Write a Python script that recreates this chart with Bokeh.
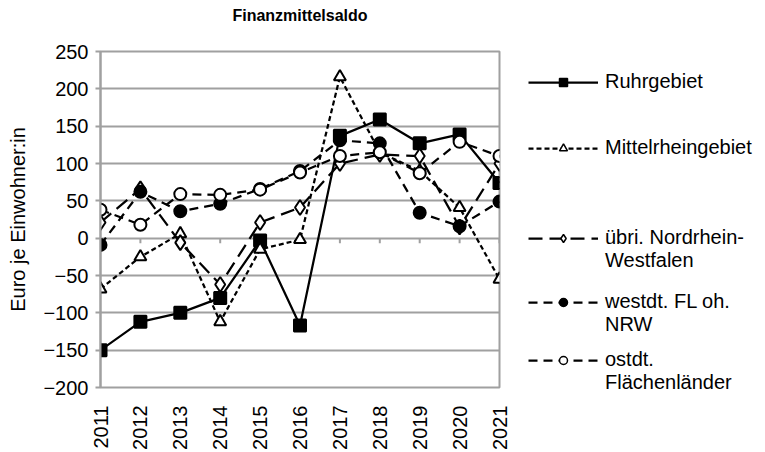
import math
from bokeh.plotting import figure
from bokeh.layouts import row, column
from bokeh.models import Range1d, FixedTicker, Legend, LegendItem
from bokeh.core.properties import value
from bokeh.embed import file_html
from bokeh.resources import INLINE

# ---- data ----
years = [2011, 2012, 2013, 2014, 2015, 2016, 2017, 2018, 2019, 2020, 2021]
ruhr = [-150, -112, -100, -80, -3, -117, 137, 159, 127, 139, 74]
mittel = [-68, -25, 6, -112, -15, -2, 216, 115, 90, 41, -55]
uebri = [21, 66, -6, -62, 21, 41, 100, 112, 110, 15, 100]
westdt = [-9, 62, 36, 46, 66, 90, 131, 127, 34, 16, 49]
ostdt = [38, 18, 59, 58, 65, 88, 110, 115, 87, 129, 110]
y_ticks = [-200, -150, -100, -50, 0, 50, 100, 150, 200, 250]

title_text = "Finanzmittelsaldo"
y_label = "Euro je Einwohner:in"
legend_first = ["Ruhrgebiet", "Mittelrheingebiet", "übri. Nordrhein-", "westdt. FL oh.", "ostdt."]
legend_second = [None, None, "Westfalen", "NRW", "Flächenländer"]

FONT = "Liberation Sans"
GRID = "#a0a0a0"
W, H = 765, 452
HEAD = 30          # height of the title strip
PW = 512           # width of the chart figure
LEFT, RIGHT, TOP, BOTTOM = 100, 13, 51 - HEAD, 64


def bare(fig):
    fig.outline_line_color = None
    fig.xgrid.grid_line_color = None
    fig.ygrid.grid_line_color = None
    fig.background_fill_color = "white"
    fig.border_fill_color = "white"
    fig.frame_align = False


# ---- title strip ----
head = figure(width=W, height=HEAD, output_backend="svg", toolbar_location=None,
              x_range=Range1d(0, W), y_range=Range1d(0, HEAD),
              x_axis_type=None, y_axis_type=None, min_border=0)
bare(head)
head.text(x=[LEFT + (PW - LEFT - RIGHT) / 2], y=[HEAD - 15], text=[title_text],
          text_font=value(FONT), text_font_size="16px", text_font_style="bold",
          text_align="center", text_baseline="middle", text_color="black")

# ---- chart ----
p = figure(width=PW, height=H - HEAD, output_backend="svg", toolbar_location=None,
           x_range=Range1d(years[0], years[-1]), y_range=Range1d(y_ticks[0], y_ticks[-1]),
           min_border_left=LEFT, min_border_right=RIGHT, min_border_top=TOP,
           min_border_bottom=BOTTOM)
p.frame_align = False
p.background_fill_color = "white"
p.border_fill_color = "white"
p.outline_line_color = GRID
p.outline_line_width = 2

p.xgrid.grid_line_color = None
p.ygrid.grid_line_color = GRID
p.ygrid.grid_line_width = 2
p.ygrid.ticker = FixedTicker(ticks=y_ticks)

ya = p.yaxis[0]
ya.ticker = FixedTicker(ticks=y_ticks)
ya.axis_line_color = GRID
ya.axis_line_width = 2
ya.major_tick_line_color = GRID
ya.major_tick_line_width = 2
ya.major_tick_out = 5
ya.major_tick_in = 0
ya.minor_tick_line_color = None
ya.major_label_text_font = FONT
ya.major_label_text_font_size = "20px"
ya.major_label_text_color = "black"
ya.major_label_standoff = 7
ya.axis_label = y_label
ya.axis_label_text_font = FONT
ya.axis_label_text_font_size = "20px"
ya.axis_label_text_font_style = "normal"
ya.axis_label_text_color = "black"
ya.axis_label_standoff = 11

xa = p.xaxis[0]
xa.ticker = FixedTicker(ticks=years)
xa.axis_line_color = None
xa.major_tick_line_color = None
xa.minor_tick_line_color = None
xa.major_label_orientation = math.pi / 2
xa.major_label_text_font = FONT
xa.major_label_text_font_size = "20px"
xa.major_label_text_color = "black"
xa.major_label_standoff = 12

# category tick marks on the zero line (Excel axis crossing at 0)
p.segment(x0=years, y0=[0] * len(years), x1=years, y1=[-6.7] * len(years),
          line_color=GRID, line_width=2)

LW = 2.25
series = [
    (ruhr, None, "square", "black", 12, 10),
    (mittel, "5 3", "triangle", "white", 12, 8),
    (uebri, "14 7", "diamond", "white", 15, 10),
    (westdt, "9 6", "circle", "black", 12, 9),
    (ostdt, "9 6", "circle", "white", 12, 9),
]

# ---- legend figure to the right of the chart ----
lg = figure(width=W - PW, height=H - HEAD, output_backend="svg", toolbar_location=None,
            x_range=Range1d(0, 1), y_range=Range1d(0, 1),
            x_axis_type=None, y_axis_type=None, min_border=0)
bare(lg)

# legend proxies: one point far outside the legend figure's visible range
off = [-10]
legend_renderers = []
for vals, dash, marker, fill, size, lsize in series:
    kw = {} if dash is None else {"line_dash": dash}
    p.line(years, vals, line_color="black", line_width=LW, **kw)
    p.scatter(years, vals, marker=marker, size=size, fill_color=fill,
              line_color="black", line_width=2)
    lr = lg.line(x=off, y=off, line_color="black", line_width=LW, **kw)
    sr = lg.scatter(x=off, y=off, marker=marker, size=lsize, fill_color=fill,
                    line_color="black", line_width=1.5)
    legend_renderers.append([lr, sr])

blank = lg.line(x=off, y=off, line_alpha=0)

# distance of each legend block's bottom edge from the figure bottom
bottoms = [359, 293, 180, 116, 58]
for i, vy in enumerate(bottoms):
    items = [LegendItem(label=legend_first[i], renderers=legend_renderers[i])]
    if legend_second[i]:
        items.append(LegendItem(label=legend_second[i], renderers=[blank]))
    leg = Legend(items=items, location=(528 - PW, vy), padding=0, margin=0, spacing=0,
                 glyph_width=70, glyph_height=20, label_height=20,
                 label_standoff=7, label_text_font=FONT, label_text_font_size="20px",
                 label_text_color="black", border_line_alpha=0,
                 background_fill_alpha=0)
    lg.add_layout(leg, "center")

layout = column(head, row(p, lg, spacing=0), spacing=0)
open("out.html", "w").write(file_html(layout, INLINE))
